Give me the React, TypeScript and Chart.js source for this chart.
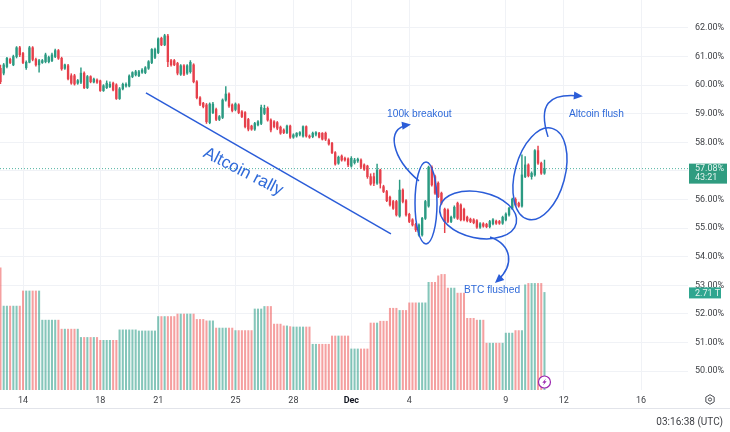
import React, { useEffect, useRef } from "react";
import { Chart, registerables } from "chart.js";

Chart.register(...registerables);

const opens = [
  60.59,60.42,60.65,60.90,60.71,61.00,61.31,61.11,60.61,60.80,
  61.31,60.90,60.71,60.79,60.82,60.82,60.86,61.00,61.21,60.94,
  60.59,60.68,60.33,60.33,60.07,60.10,60.42,59.91,60.30,60.11,
  60.18,60.15,59.81,59.91,59.95,60.07,60.01,59.53,59.87,59.97,
  59.97,60.30,60.36,60.33,60.45,60.44,60.59,60.79,60.97,61.14,
  61.64,61.41,61.72,60.86,60.86,60.76,60.38,60.68,60.42,60.47,
  60.71,60.12,59.56,59.37,59.31,58.69,59.04,59.15,58.80,58.87,
  59.48,59.69,59.31,59.15,59.31,59.07,59.04,58.80,58.57,58.46,
  58.61,58.66,59.01,59.19,58.78,58.72,58.69,58.53,58.43,58.34,
  58.57,58.18,58.22,58.28,58.22,58.55,58.22,58.20,58.28,58.32,
  58.32,58.32,58.08,57.97,57.64,57.27,57.52,57.44,57.42,57.17,
  57.29,57.35,57.38,57.21,57.17,56.80,56.80,56.57,57.03,56.45,
  56.28,56.08,55.93,55.93,55.42,56.33,55.96,55.48,55.29,55.13,
  54.76,54.76,55.34,55.77,57.13,56.80,56.57,56.22,55.66,55.63,
  55.23,55.38,55.87,55.81,55.66,55.38,55.31,55.29,55.26,55.03,
  55.15,55.13,55.05,55.15,55.24,55.23,55.17,55.29,55.46,55.69,
  56.01,55.87,55.77,56.80,57.21,56.80,56.86,57.71,57.27,56.92,
];
const closes = [
  60.12,60.71,60.94,60.79,61.00,61.31,61.06,60.79,60.80,61.31,
  60.90,60.71,60.86,60.86,61.06,60.97,61.06,61.21,60.94,60.57,
  60.71,60.22,60.07,60.04,60.16,60.42,59.91,60.30,60.12,60.21,
  60.10,59.81,59.98,60.07,60.03,59.83,59.53,59.87,60.03,60.03,
  60.32,60.44,60.47,60.47,60.53,60.61,60.82,61.25,61.25,61.62,
  61.41,61.73,60.82,60.71,60.71,60.42,60.68,60.38,60.68,60.80,
  60.12,59.56,59.33,59.25,58.72,59.34,59.34,58.80,58.90,59.48,
  59.69,59.27,59.11,59.34,59.04,58.90,58.55,58.46,58.46,58.66,
  58.72,59.22,59.19,58.78,58.43,58.55,58.49,58.32,58.34,58.57,
  58.18,58.26,58.32,58.34,58.55,58.22,58.18,58.32,58.34,58.18,
  58.11,58.11,57.94,57.64,57.24,57.48,57.38,57.38,57.21,57.44,
  57.38,57.41,57.13,57.06,56.80,56.54,56.57,57.03,56.57,56.28,
  55.96,55.81,55.69,55.46,56.33,55.93,55.46,55.23,55.11,54.94,
  55.11,55.34,55.93,57.13,56.51,56.22,56.10,55.87,55.23,55.23,
  55.38,55.73,55.34,55.29,55.29,55.26,55.23,55.19,55.03,55.15,
  55.07,55.05,55.23,55.29,55.17,55.17,55.38,55.49,55.69,56.01,
  55.81,55.77,56.86,57.21,56.83,56.92,57.71,57.27,56.92,57.08,
];
const highs = [
  60.70,60.76,60.97,60.95,61.05,61.35,61.36,61.15,60.85,61.36,
  61.35,60.95,60.90,60.90,61.12,61.02,61.12,61.26,61.25,60.98,
  60.74,60.73,60.40,60.38,60.20,60.61,60.47,60.34,60.33,60.25,
  60.22,60.18,60.02,60.15,60.12,60.11,60.05,59.92,60.07,60.08,
  60.36,60.47,60.52,60.52,60.58,60.65,60.86,61.28,61.30,61.66,
  61.68,61.78,61.78,60.90,60.90,60.80,60.72,60.72,60.72,60.86,
  60.75,60.16,59.60,59.40,59.36,59.38,59.40,59.20,58.94,59.52,
  59.95,59.73,59.35,59.38,59.35,59.11,59.08,58.84,58.60,58.70,
  58.76,59.30,59.30,59.24,58.82,58.76,58.73,58.57,58.47,58.60,
  58.60,58.30,58.34,58.38,58.58,58.58,58.26,58.36,58.38,58.35,
  58.34,58.36,58.12,58.00,57.68,57.52,57.56,57.48,57.46,57.50,
  57.44,57.45,57.42,57.25,57.20,56.90,56.92,57.24,57.06,56.50,
  56.32,56.12,55.97,55.97,56.68,56.37,56.00,55.52,55.33,55.17,
  55.15,55.38,55.97,57.17,57.18,56.85,56.62,56.26,55.70,55.67,
  55.42,55.78,55.91,55.85,55.70,55.42,55.35,55.33,55.30,55.19,
  55.19,55.17,55.27,55.33,55.28,55.27,55.42,55.53,55.73,56.05,
  56.06,55.91,57.56,57.50,57.25,56.97,57.75,57.87,57.31,57.38,
];
const lows = [
  60.05,60.36,60.60,60.75,60.68,60.95,61.00,60.75,60.55,60.78,
  60.85,60.66,60.45,60.76,60.78,60.78,60.82,60.96,60.90,60.52,
  60.55,60.18,60.03,60.00,60.03,60.05,59.88,59.88,60.08,60.08,
  60.06,59.78,59.78,59.88,59.91,59.80,59.50,59.50,59.83,59.93,
  59.94,60.26,60.32,60.30,60.41,60.40,60.55,60.75,60.93,61.10,
  61.38,61.38,60.65,60.66,60.68,60.36,60.34,60.33,60.38,60.42,
  60.08,59.52,59.28,59.20,58.66,58.65,59.00,58.76,58.76,58.83,
  59.44,59.22,59.06,59.10,59.00,58.86,58.50,58.40,58.42,58.42,
  58.57,58.62,58.97,58.74,58.36,58.50,58.44,58.28,58.30,58.30,
  58.14,58.14,58.18,58.22,58.18,58.18,58.14,58.16,58.22,58.15,
  58.08,58.06,57.90,57.60,57.20,57.23,57.34,57.34,57.15,57.13,
  57.24,57.30,57.08,57.02,56.74,56.50,56.48,56.53,56.40,56.24,
  55.92,55.77,55.65,55.42,55.38,55.88,55.42,55.19,55.07,54.88,
  54.72,54.72,55.30,55.73,56.47,56.18,56.06,55.83,54.84,55.19,
  55.19,55.34,55.30,55.25,55.25,55.22,55.19,55.15,54.99,54.99,
  55.03,55.01,55.01,55.11,55.13,55.13,55.13,55.25,55.42,55.65,
  55.77,55.73,55.73,56.76,56.79,56.71,56.82,57.23,56.88,56.88,
];
const volumes = [
  3.39,2.33,2.33,2.33,2.33,2.33,2.33,2.75,2.75,2.75,
  2.75,2.75,2.75,1.94,1.94,1.94,1.94,1.94,1.94,1.69,
  1.69,1.69,1.69,1.69,1.69,1.46,1.46,1.46,1.46,1.46,
  1.46,1.38,1.38,1.38,1.38,1.38,1.38,1.67,1.67,1.67,
  1.67,1.67,1.67,1.64,1.64,1.64,1.64,1.64,1.64,2.04,
  2.04,2.04,2.04,2.04,2.04,2.11,2.11,2.11,2.11,2.11,
  2.11,1.96,1.96,1.96,1.92,1.92,1.92,1.72,1.72,1.72,
  1.72,1.72,1.72,1.65,1.65,1.65,1.65,1.65,1.65,2.25,
  2.25,2.25,2.32,2.32,2.32,1.83,1.83,1.83,1.78,1.78,
  1.76,1.75,1.75,1.75,1.75,1.75,1.75,1.27,1.27,1.27,
  1.27,1.27,1.27,1.50,1.50,1.50,1.50,1.50,1.50,1.14,
  1.14,1.14,1.14,1.14,1.14,1.86,1.86,1.86,1.91,1.91,
  1.91,2.27,2.27,2.27,2.21,2.21,2.21,2.42,2.42,2.42,
  2.42,2.42,2.42,2.99,2.99,2.99,3.17,3.21,3.21,2.83,
  2.83,2.83,2.69,2.69,2.69,1.99,1.99,1.99,1.94,1.94,
  1.94,1.30,1.30,1.30,1.30,1.30,1.30,1.58,1.58,1.58,
  1.65,1.65,1.65,2.92,2.96,2.96,2.96,2.96,2.96,2.71,
];
const dayTickIndex = [7, 31, 49, 73, 91, 109, 127, 157, 175, 199];
const dayTickLabels = ["14", "18", "21", "25", "28", "Dec", "4", "9", "12", "16"];
const priceLabel = "57.08%";
const countdownLabel = "43:21";
const volumeLabel = "2.71 T";
const clockLabel = "03:16:38 (UTC)";

const trendLine = [[45.2, 59.73], [121.3, 54.8]];
const ellipses = [
  { at: [132.2, 55.88], rx: 11, ry: 41, rot: 0 },
  { at: [148.4, 55.46], rx: 39, ry: 23, rot: 12 },
  { at: [167.6, 56.9], rx: 25, ry: 47, rot: 15 },
];
const arrows = [
  [[130.0, 56.65], [121.6, 57.45], [119.5, 58.5], [126.6, 58.61]],
  [[152.1, 54.69], [158.9, 54.41], [159.8, 53.71], [154.3, 53.15]],
  [[170.1, 58.19], [167.0, 59.31], [170.1, 59.73], [180.0, 59.62]],
];
const notes = [
  { text: "100k breakout", at: [120.1, 58.98] },
  { text: "BTC flushed", at: [144.0, 52.81] },
  { text: "Altcoin flush", at: [176.6, 59.0] },
];
const rallyNote = { text: "Altcoin rally", at: [75.4, 56.97], rot: 27 };

const UP = "#2b9a82";
const DOWN = "#e6404b";
const UP_V = "rgba(52,160,140,0.6)";
const DOWN_V = "rgba(238,96,96,0.6)";
const INK = "#2a5cd8";
const NOTE = "#2f6ad9";
const GRID = "#f0f2f6";
const LABEL = "#3f4146";
const FONT = "Roboto, 'Liberation Sans', sans-serif";

const overlay = {
  id: "overlay",
  beforeDatasetsDraw(chart: any) {
    const { ctx, scales, chartArea } = chart;
    const y = scales.y.getPixelForValue(closes[closes.length - 1]);
    ctx.save();
    ctx.strokeStyle = "#4fb3a0";
    ctx.lineWidth = 1;
    ctx.setLineDash([1, 2]);
    ctx.beginPath();
    ctx.moveTo(chartArea.left, y);
    ctx.lineTo(chartArea.right, y);
    ctx.stroke();
    ctx.restore();
  },
  afterDraw(chart: any) {
    const { ctx, scales, chartArea, width } = chart;
    const px = (p: number[]) => [scales.x.getPixelForValue(p[0]), scales.y.getPixelForValue(p[1])];
    ctx.save();
    ctx.strokeStyle = INK;
    ctx.fillStyle = INK;
    ctx.lineWidth = 1.5;

    const [a, b] = trendLine.map(px);
    ctx.beginPath();
    ctx.moveTo(a[0], a[1]);
    ctx.lineTo(b[0], b[1]);
    ctx.stroke();

    ellipses.forEach((e) => {
      const [cx, cy] = px(e.at);
      ctx.beginPath();
      ctx.ellipse(cx, cy, e.rx, e.ry, (e.rot * Math.PI) / 180, 0, Math.PI * 2);
      ctx.stroke();
    });

    arrows.forEach((arrow) => {
      const [p0, c1, c2, p1] = arrow.map(px);
      ctx.beginPath();
      ctx.moveTo(p0[0], p0[1]);
      ctx.bezierCurveTo(c1[0], c1[1], c2[0], c2[1], p1[0], p1[1]);
      ctx.stroke();
      const t = Math.atan2(p1[1] - c2[1], p1[0] - c2[0]);
      ctx.beginPath();
      ctx.moveTo(p1[0] + 3 * Math.cos(t), p1[1] + 3 * Math.sin(t));
      ctx.lineTo(p1[0] - 6 * Math.cos(t) - 4 * Math.sin(t), p1[1] - 6 * Math.sin(t) + 4 * Math.cos(t));
      ctx.lineTo(p1[0] - 6 * Math.cos(t) + 4 * Math.sin(t), p1[1] - 6 * Math.sin(t) - 4 * Math.cos(t));
      ctx.closePath();
      ctx.fill();
    });

    ctx.fillStyle = NOTE;
    ctx.textBaseline = "middle";
    ctx.textAlign = "left";
    ctx.font = `10.2px 'Liberation Sans', sans-serif`;
    notes.forEach((n) => {
      const [x, y] = px(n.at);
      ctx.fillText(n.text, x, y);
    });
    const [rx, ry] = px(rallyNote.at);
    ctx.save();
    ctx.translate(rx, ry);
    ctx.rotate((rallyNote.rot * Math.PI) / 180);
    ctx.textAlign = "center";
    ctx.font = `17px 'Liberation Sans', sans-serif`;
    ctx.fillText(rallyNote.text, 0, 0);
    ctx.restore();

    // last-value badges over the price axis
    const left = chartArea.right + 1;
    const py = scales.y.getPixelForValue(closes[closes.length - 1]);
    ctx.fillStyle = "#2f9c80";
    ctx.fillRect(left, py - 5, 38, 20);
    ctx.fillStyle = "#e3f3ee";
    ctx.font = `9px ${FONT}`;
    ctx.textAlign = "left";
    ctx.fillText(priceLabel, left + 6, py);
    ctx.fillText(countdownLabel, left + 6, py + 9);
    const vy = scales.v.getPixelForValue(volumes[volumes.length - 1]);
    ctx.fillStyle = "#2fa690";
    ctx.fillRect(left, vy - 5, 32, 11);
    ctx.fillStyle = "#e3f3ee";
    ctx.fillText(volumeLabel, left + 6, vy + 1);

    // event marker under the last bar
    const ex = scales.x.getPixelForValue(closes.length - 1);
    const ey = scales.v.getPixelForValue(0) - 8;
    ctx.beginPath();
    ctx.arc(ex, ey, 6, 0, Math.PI * 2);
    ctx.fillStyle = "#ffffff";
    ctx.fill();
    ctx.strokeStyle = "#9c27b0";
    ctx.lineWidth = 1.2;
    ctx.stroke();
    ctx.fillStyle = "#9c27b0";
    ctx.beginPath();
    ctx.moveTo(ex + 1.5, ey - 3.5);
    ctx.lineTo(ex - 2.2, ey + 0.8);
    ctx.lineTo(ex - 0.2, ey + 0.8);
    ctx.lineTo(ex - 1.5, ey + 3.5);
    ctx.lineTo(ex + 2.2, ey - 0.8);
    ctx.lineTo(ex + 0.2, ey - 0.8);
    ctx.closePath();
    ctx.fill();

    // bottom rule, clock, settings glyph
    ctx.strokeStyle = "#e2e4ea";
    ctx.lineWidth = 1;
    ctx.beginPath();
    ctx.moveTo(0, 408.5);
    ctx.lineTo(width, 408.5);
    ctx.stroke();
    ctx.fillStyle = LABEL;
    ctx.textAlign = "right";
    ctx.font = `10px ${FONT}`;
    ctx.fillText(clockLabel, 723, 422);

    ctx.strokeStyle = "#4a4c52";
    ctx.lineWidth = 1;
    const gx = 710, gy = 399.5;
    ctx.beginPath();
    for (let k = 0; k < 6; k++) {
      const ang = Math.PI / 6 + (k * Math.PI) / 3;
      const qx = gx + 4.8 * Math.cos(ang);
      const qy = gy + 4.8 * Math.sin(ang);
      if (k === 0) ctx.moveTo(qx, qy);
      else ctx.lineTo(qx, qy);
    }
    ctx.closePath();
    ctx.stroke();
    ctx.beginPath();
    ctx.arc(gx, gy, 1.6, 0, Math.PI * 2);
    ctx.stroke();
    ctx.restore();
  },
};

export default function App() {
  const ref = useRef<HTMLCanvasElement | null>(null);
  useEffect(() => {
    if (!ref.current) return;
    const isUp = (i: number) => closes[i] >= opens[i];
    const idx = closes.map((_, i) => i);
    const chart = new Chart(ref.current, {
      type: "bar",
      data: {
        datasets: [
          {
            label: "Wicks",
            yAxisID: "y",
            order: 2,
            barThickness: 0.8,
            grouped: false,
            data: idx.map((i) => ({ x: i, y: [lows[i], highs[i]] })),
            backgroundColor: idx.map((i) => (isUp(i) ? UP : DOWN)),
          },
          {
            label: "Bodies",
            yAxisID: "y",
            order: 1,
            barThickness: 1.7,
            grouped: false,
            data: idx.map((i) => ({ x: i, y: [Math.min(opens[i], closes[i]), Math.max(opens[i], closes[i])] })),
            backgroundColor: idx.map((i) => (isUp(i) ? UP : DOWN)),
          },
          {
            label: "Volume",
            yAxisID: "v",
            order: 3,
            barThickness: 1.4,
            grouped: false,
            data: idx.map((i) => ({ x: i, y: volumes[i] })),
            backgroundColor: idx.map((i) => (isUp(i) ? UP_V : DOWN_V)),
          },
        ],
      } as any,
      options: {
        responsive: false,
        animation: false,
        layout: { padding: 0 },
        plugins: { legend: { display: false }, tooltip: { enabled: false } },
        scales: {
          x: {
            type: "linear",
            min: -0.146,
            max: 213.59,
            offset: false,
            border: { display: false },
            grid: { color: GRID, drawTicks: false, offset: false },
            afterBuildTicks: (s: any) => {
              s.ticks = dayTickIndex.map((value) => ({ value }));
            },
            afterFit: (s: any) => {
              s.height = 42;
              s.paddingLeft = 0;
              s.paddingRight = 0;
            },
            ticks: {
              autoSkip: false,
              maxRotation: 0,
              padding: 5,
              callback: (v: any) => dayTickLabels[dayTickIndex.indexOf(Number(v))] ?? "",
              color: (c: any) => (c.tick?.label === "Dec" ? "#131722" : LABEL),
              font: (c: any) => ({ family: FONT, size: 9, weight: c.tick?.label === "Dec" ? "bold" : "normal" }),
            },
          },
          y: {
            type: "linear",
            position: "right",
            min: 49.336,
            max: 62.979,
            border: { display: false },
            grid: { color: GRID, drawTicks: false },
            afterFit: (s: any) => {
              s.width = 42;
              s.paddingTop = 0;
              s.paddingBottom = 0;
            },
            ticks: {
              stepSize: 1,
              includeBounds: false,
              padding: 7,
              color: LABEL,
              font: { family: FONT, size: 9 },
              callback: (v: any) => `${Number(v).toFixed(2)}%`,
            },
          },
          v: {
            type: "linear",
            display: false,
            min: 0,
            max: 10.83,
          },
        },
      } as any,
      plugins: [overlay],
    });
    return () => chart.destroy();
  }, []);
  return (
    <div style={{ position: "fixed", left: 0, top: 0, width: 730, height: 432, background: "#fff" }}>
      <canvas ref={ref} width={730} height={432} style={{ display: "block" }} />
    </div>
  );
}
